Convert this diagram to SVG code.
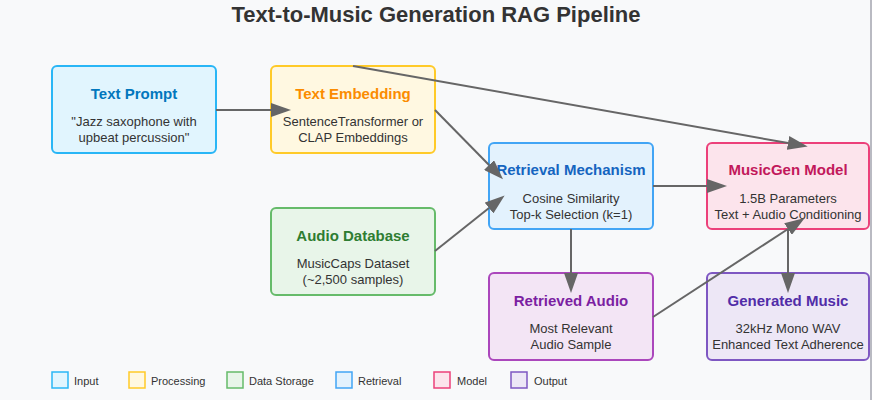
<svg xmlns="http://www.w3.org/2000/svg" width="872" height="400" viewBox="0 0 872 400">
<defs>
<marker id="arr" markerWidth="10" markerHeight="7" refX="0" refY="3.5" orient="auto">
<polygon points="0 0, 10 3.5, 0 7" fill="#666"/>
</marker>
<style>
text{font-family:"Liberation Sans",Arial,sans-serif;text-anchor:middle}
.title{font-size:22px;font-weight:bold;fill:#333}
.nt{font-size:15px;font-weight:bold}
.ns{font-size:13px;fill:#333}
.box{stroke-width:2}
.lg{font-size:11px;fill:#333;text-anchor:start}
.lb{stroke-width:1.5}
.conn line{stroke:#666;stroke-width:2;marker-end:url(#arr)}
</style>
</defs>
<rect width="872" height="400" fill="#f8f9fa"/>
<rect x="870" y="0" width="2" height="400" fill="#b9bac2"/>
<text class="title" x="436" y="22">Text-to-Music Generation RAG Pipeline</text>

<g id="text-prompt">
<rect class="box" x="52" y="66" width="164" height="87" rx="5" fill="#e1f5fe" stroke="#29b6f6"/>
<text class="nt" x="134" y="99" fill="#0277bd">Text Prompt</text>
<text class="ns" x="134" y="126">"Jazz saxophone with</text>
<text class="ns" x="134" y="142">upbeat percussion"</text>
</g>
<g id="text-embedding">
<rect class="box" x="271" y="66" width="164" height="87" rx="5" fill="#fff8e1" stroke="#ffca28"/>
<text class="nt" x="353" y="99" fill="#fb8c00">Text Embedding</text>
<text class="ns" x="353" y="126">SentenceTransformer or</text>
<text class="ns" x="353" y="142">CLAP Embeddings</text>
</g>
<g id="audio-database">
<rect class="box" x="271" y="208" width="164" height="87" rx="5" fill="#e8f5e9" stroke="#66bb6a"/>
<text class="nt" x="353" y="241" fill="#2e7d32">Audio Database</text>
<text class="ns" x="353" y="268">MusicCaps Dataset</text>
<text class="ns" x="353" y="284">(~2,500 samples)</text>
</g>
<g id="retrieval">
<rect class="box" x="489" y="143" width="164" height="86" rx="5" fill="#e3f2fd" stroke="#42a5f5"/>
<text class="nt" x="571" y="175" fill="#1565c0">Retrieval Mechanism</text>
<text class="ns" x="571" y="203">Cosine Similarity</text>
<text class="ns" x="571" y="219">Top-k Selection (k=1)</text>
</g>
<g id="musicgen">
<rect class="box" x="707" y="143" width="162" height="86" rx="5" fill="#fce4ec" stroke="#ec407a"/>
<text class="nt" x="788" y="175" fill="#c2185b">MusicGen Model</text>
<text class="ns" x="788" y="203">1.5B Parameters</text>
<text class="ns" x="788" y="219">Text + Audio Conditioning</text>
</g>
<g id="retrieved-audio">
<rect class="box" x="489" y="273" width="164" height="87" rx="5" fill="#f3e5f5" stroke="#ab47bc"/>
<text class="nt" x="571" y="306" fill="#7b1fa2">Retrieved Audio</text>
<text class="ns" x="571" y="333">Most Relevant</text>
<text class="ns" x="571" y="349">Audio Sample</text>
</g>
<g id="generated-music">
<rect class="box" x="707" y="273" width="162" height="87" rx="5" fill="#ede7f6" stroke="#7e57c2"/>
<text class="nt" x="788" y="306" fill="#512da8">Generated Music</text>
<text class="ns" x="788" y="333">32kHz Mono WAV</text>
<text class="ns" x="788" y="349">Enhanced Text Adherence</text>
</g>

<g id="connectors" class="conn">
<line x1="216" y1="110" x2="271" y2="110"/>
<line x1="435" y1="110" x2="489" y2="165"/>
<line x1="435" y1="251" x2="489" y2="208"/>
<line x1="653" y1="186" x2="707" y2="186"/>
<line x1="353" y1="66" x2="788" y2="143"/>
<line x1="571" y1="229" x2="571" y2="273"/>
<line x1="653" y1="317" x2="788" y2="229"/>
<line x1="788" y1="229" x2="788" y2="273"/>
</g>

<g id="legend">
<rect class="lb" x="52" y="372" width="16" height="16" fill="#e1f5fe" stroke="#29b6f6"/>
<text class="lg" x="74" y="385">Input</text>
<rect class="lb" x="129" y="372" width="16" height="16" fill="#fff8e1" stroke="#ffca28"/>
<text class="lg" x="151" y="385">Processing</text>
<rect class="lb" x="227" y="372" width="16" height="16" fill="#e8f5e9" stroke="#66bb6a"/>
<text class="lg" x="249" y="385">Data Storage</text>
<rect class="lb" x="336" y="372" width="16" height="16" fill="#e3f2fd" stroke="#42a5f5"/>
<text class="lg" x="358" y="385">Retrieval</text>
<rect class="lb" x="434" y="372" width="16" height="16" fill="#fce4ec" stroke="#ec407a"/>
<text class="lg" x="457" y="385">Model</text>
<rect class="lb" x="511" y="372" width="16" height="16" fill="#ede7f6" stroke="#7e57c2"/>
<text class="lg" x="534" y="385">Output</text>
</g>
</svg>
